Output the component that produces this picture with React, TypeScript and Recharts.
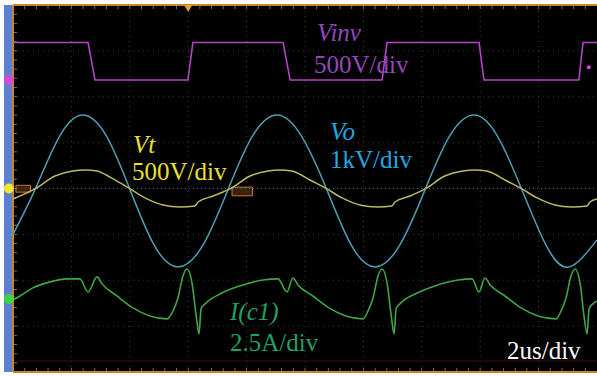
import React from 'react';
import {
  LineChart,
  Line,
  XAxis,
  YAxis,
  CartesianGrid,
  ReferenceDot,
  ReferenceArea,
  ReferenceLine,
} from 'recharts';

const WIDTH = 597;
const HEIGHT = 376;
const MARGIN = { top: 5, right: 0, bottom: 4, left: 13 };

// screen: 10 x 8 divisions, 2 us/div
const DIVS_X = 10;
const HALF_DIVS_Y = 4;
const US_PER_DIV = 2;
const T_END = DIVS_X * US_PER_DIV;

// Vinv, 500 V/div
const vinvTime = [0, 2.57, 2.81, 5.99, 6.16, 9.25, 9.49, 12.64, 12.81, 15.96, 16.13, 19.38, 19.52, 20];
const vinvVolts = [410, 410, 0, 0, 410, 410, 0, 0, 410, 410, 0, 0, 410, 410];

// Vt, 500 V/div
const vtTime = [
  0, 0.75, 1.44, 2.05, 2.47, 2.88, 2.98, 3.49, 4.01, 4.52, 5.14, 5.72, 6.23, 6.34, 6.85,
  7.43, 8.12, 8.73, 9.14, 9.55, 9.66, 10.17, 10.75, 11.27, 11.88, 12.47, 12.98, 13.08, 13.6,
  14.11, 14.79, 15.41, 15.82, 16.23, 16.34, 16.85, 17.43, 17.95, 18.56, 19.14, 19.66, 19.76, 20,
];
const vtVolts = [
  -114, -5, 136, 191, 201, 191, 180, 93, -5, -103, -180, -201, -191, -147, -82,
  -5, 136, 191, 201, 191, 180, 93, -5, -103, -180, -201, -191, -147, -82,
  -5, 136, 191, 201, 191, 180, 93, -5, -103, -180, -201, -191, -147, -114,
];

// Vo, 1 kV/div
const voTime = [
  0, 0.75, 1.58, 2.4, 3.22, 4.01, 4.83, 5.65, 6.51, 7.36, 8.18, 9.04, 9.9, 10.75, 11.58,
  12.4, 13.25, 14.11, 14.93, 15.79, 16.61, 17.43, 18.25, 19.04, 20,
];
const voVolts = [
  -1000, -30, 1120, 1600, 1120, -30, -1230, -1710, -1230, -30, 1120, 1600, 1120, -30, -1230,
  -1710, -1230, -30, 1120, 1600, 1120, -30, -1230, -1710, -1120,
];

// I(c1), 2.5 A/div
const icTime = [
  0, 0.24, 0.68, 1.27, 1.85, 2.29, 2.57, 2.88, 3.05, 3.56, 4.11, 4.69, 5.27, 5.48, 5.65, 5.82,
  5.96, 6.13, 6.27, 6.37, 6.44, 6.58, 7.09, 7.77, 8.56, 9.08, 9.38, 9.59, 9.76, 10.27, 10.82,
  11.4, 11.99, 12.16, 12.33, 12.5, 12.64, 12.81, 12.95, 13.05, 13.12, 13.25, 13.77, 14.45,
  15.24, 15.72, 15.96, 16.16, 16.34, 16.85, 17.4, 17.98, 18.6, 18.77, 18.94, 19.11, 19.25,
  19.42, 19.55, 19.66, 19.73, 19.86, 20,
];
const icAmps = [
  -0.05, 0.16, 0.6, 0.93, 1.09, 1.09, 0.38, 1.2, 0.82, 0.16, -0.49, -0.93, -1.09, -0.65, 0.05,
  1.25, 1.63, 0.87, -0.87, -1.91, -0.54, -0.27, 0.27, 0.71, 1.03, 1.09, 0.38, 1.14, 0.76, 0.16,
  -0.49, -0.93, -1.09, -0.65, 0.05, 1.25, 1.63, 0.87, -0.87, -1.91, -0.54, -0.27, 0.27, 0.71,
  1.03, 1.09, 0.38, 1.14, 0.76, 0.16, -0.49, -0.93, -1.09, -0.65, 0.05, 1.25, 1.63, 0.87, -0.87,
  -1.91, -0.54, -0.27, -0.11,
];

// per channel scale and ground position (divisions from screen centre)
const channels = {
  vinv: { perDiv: 500, zeroDiv: 2.364, color: '#b445c4' },
  vt: { perDiv: 500, zeroDiv: 0, color: '#bdb865' },
  vo: { perDiv: 1000, zeroDiv: 0, color: '#4f9db6' },
  ic: { perDiv: 2.5, zeroDiv: -2.407, color: '#3fa546' },
};

const domainOf = (ch: { perDiv: number; zeroDiv: number }): [number, number] => [
  (-HALF_DIVS_Y - ch.zeroDiv) * ch.perDiv,
  (HALF_DIVS_Y - ch.zeroDiv) * ch.perDiv,
];

const pts = (t: number[], v: number[]) => t.map((x, i) => ({ t: x, v: v[i] }));

// graticule marks are placed on the Vo axis (centred, 1 kV/div)
const G = 'vo';
const div = (d: number) => d * channels.vo.perDiv;

const majorX = Array.from({ length: DIVS_X - 1 }, (_, i) => (i + 1) * US_PER_DIV);
const majorY = [-3, -2, -1, 1, 2, 3];
const minorX = Array.from({ length: DIVS_X * 5 - 1 }, (_, i) => ((i + 1) * US_PER_DIV) / 5);
const minorY = Array.from({ length: HALF_DIVS_Y * 10 - 1 }, (_, i) => -HALF_DIVS_Y + (i + 1) * 0.2);

// tick length in axis units (about 4px)
const TICK_T = 0.14;
const TICK_DIV = 0.09;

const BORDER = '#c8862a';
const TICK = '#7a6c58';
const GRID = '#3a3a3a';
const FONT = "'Liberation Serif', 'Times New Roman', serif";

const TriggerMark = (props: any) => {
  const { cx, cy } = props;
  return <path d={`M${cx - 4},${cy} L${cx + 4},${cy} L${cx},${cy + 7} Z`} fill="#e8a424" />;
};

const Labels = () => (
  <svg
    width={WIDTH}
    height={HEIGHT}
    style={{ position: 'absolute', left: 0, top: 0, pointerEvents: 'none' }}
  >
    <g fontFamily={FONT} fontSize={25}>
      <text x={317} y={41} fill="#9048b8" fontStyle="italic">Vinv</text>
      <text x={314} y={73} fill="#9048b8">500V/div</text>
      <text x={133} y={153} fill="#e8e030" fontStyle="italic">Vt</text>
      <text x={132} y={180} fill="#e8e030">500V/div</text>
      <text x={330} y={140} fill="#22a8e0" fontStyle="italic">Vo</text>
      <text x={330} y={168} fill="#22a8e0">1kV/div</text>
      <text x={230} y={320} fill="#22a060" fontStyle="italic">I(c1)</text>
      <text x={230} y={351} fill="#22a060">2.5A/div</text>
      <text x={507} y={359} fill="#ffffff">2us/div</text>
    </g>
  </svg>
);

export default function App() {
  return (
    <div style={{ position: 'absolute', left: 0, top: 0, width: WIDTH, height: HEIGHT, background: '#fff' }}>
      <div
        style={{
          position: 'absolute',
          left: 4,
          top: MARGIN.top,
          width: 9,
          height: HEIGHT - MARGIN.top - MARGIN.bottom,
          background: '#5d7fcf',
        }}
      />
      <div style={{ position: 'absolute', left: 0, top: 0 }}>
        <LineChart width={WIDTH} height={HEIGHT} margin={MARGIN}>
          <CartesianGrid xAxisId="time" yAxisId={G} fill="#000" horizontal={false} vertical={false} />
          <XAxis xAxisId="time" dataKey="t" type="number" domain={[0, T_END]} allowDataOverflow hide />
          <YAxis yAxisId="vinv" hide type="number" domain={domainOf(channels.vinv)} allowDataOverflow />
          <YAxis yAxisId="vt" hide type="number" domain={domainOf(channels.vt)} allowDataOverflow />
          <YAxis yAxisId="vo" hide type="number" domain={domainOf(channels.vo)} allowDataOverflow />
          <YAxis yAxisId="ic" hide type="number" domain={domainOf(channels.ic)} allowDataOverflow />

          {/* dotted graticule */}
          {majorX.map((x) => (
            <ReferenceLine key={`gx${x}`} xAxisId="time" yAxisId={G} x={x} stroke={GRID} strokeDasharray="1 4" />
          ))}
          {majorY.map((y) => (
            <ReferenceLine key={`gy${y}`} xAxisId="time" yAxisId={G} y={div(y)} stroke={GRID} strokeDasharray="1 4" />
          ))}
          <ReferenceLine xAxisId="time" yAxisId={G} y={0} stroke="#4c5890" strokeDasharray="1 3" />
          <ReferenceLine xAxisId="time" yAxisId={G} y={div(-3.76)} stroke="#3a1212" />

          {/* border ticks, 5 per division */}
          {minorX.map((x) => (
            <ReferenceLine
              key={`tt${x}`}
              xAxisId="time"
              yAxisId={G}
              segment={[{ x, y: div(HALF_DIVS_Y) }, { x, y: div(HALF_DIVS_Y - TICK_DIV) }]}
              stroke={TICK}
            />
          ))}
          {minorX.map((x) => (
            <ReferenceLine
              key={`tb${x}`}
              xAxisId="time"
              yAxisId={G}
              segment={[{ x, y: div(-HALF_DIVS_Y) }, { x, y: div(-HALF_DIVS_Y + TICK_DIV) }]}
              stroke={TICK}
            />
          ))}
          {minorY.map((y) => (
            <ReferenceLine
              key={`tl${y}`}
              xAxisId="time"
              yAxisId={G}
              segment={[{ x: 0, y: div(y) }, { x: TICK_T, y: div(y) }]}
              stroke={TICK}
            />
          ))}

          {/* frame */}
          <ReferenceLine xAxisId="time" yAxisId={G} y={div(HALF_DIVS_Y)} stroke={BORDER} strokeWidth={2} />
          <ReferenceLine xAxisId="time" yAxisId={G} y={div(-HALF_DIVS_Y)} stroke={BORDER} strokeWidth={2} />
          <ReferenceLine xAxisId="time" yAxisId={G} x={0} stroke={BORDER} strokeWidth={2} />

          <ReferenceArea
            xAxisId="time"
            yAxisId={G}
            x1={7.5}
            x2={8.2}
            y1={div(-0.16)}
            y2={div(0.03)}
            fill="#3a2210"
            fillOpacity={1}
            stroke="#c8782e"
            ifOverflow="visible"
          />
          <ReferenceArea
            xAxisId="time"
            yAxisId={G}
            x1={0.1}
            x2={0.6}
            y1={div(-0.08)}
            y2={div(0.07)}
            fill="#3a2210"
            fillOpacity={1}
            stroke="#c8782e"
            ifOverflow="visible"
          />

          <Line
            data={pts(vinvTime, vinvVolts)}
            dataKey="v"
            xAxisId="time"
            yAxisId="vinv"
            type="linear"
            stroke={channels.vinv.color}
            strokeWidth={1.6}
            dot={false}
            isAnimationActive={false}
          />
          <Line
            data={pts(voTime, voVolts)}
            dataKey="v"
            xAxisId="time"
            yAxisId="vo"
            type="natural"
            stroke={channels.vo.color}
            strokeWidth={1.5}
            dot={false}
            isAnimationActive={false}
          />
          <Line
            data={pts(vtTime, vtVolts)}
            dataKey="v"
            xAxisId="time"
            yAxisId="vt"
            type="monotone"
            stroke={channels.vt.color}
            strokeWidth={1.5}
            dot={false}
            isAnimationActive={false}
          />
          <Line
            data={pts(icTime, icAmps)}
            dataKey="v"
            xAxisId="time"
            yAxisId="ic"
            type="monotone"
            stroke={channels.ic.color}
            strokeWidth={1.6}
            dot={false}
            isAnimationActive={false}
          />

          {/* ground markers on the left edge */}
          <ReferenceDot xAxisId="time" yAxisId="vinv" x={-0.14} y={0} r={5} fill="#d848d8" stroke="none" ifOverflow="visible" />
          <ReferenceDot xAxisId="time" yAxisId="vt" x={-0.14} y={0} r={5} fill="#f2e632" stroke="none" ifOverflow="visible" />
          <ReferenceDot xAxisId="time" yAxisId="ic" x={-0.14} y={0} r={5} fill="#38d83c" stroke="none" ifOverflow="visible" />
          <ReferenceDot xAxisId="time" yAxisId="vinv" x={19.72} y={140} r={2} fill="#d848d8" stroke="none" />
          {/* trigger position */}
          <ReferenceDot xAxisId="time" yAxisId={G} x={6} y={div(HALF_DIVS_Y)} shape={TriggerMark} ifOverflow="visible" />
        </LineChart>
      </div>
      <Labels />
    </div>
  );
}
